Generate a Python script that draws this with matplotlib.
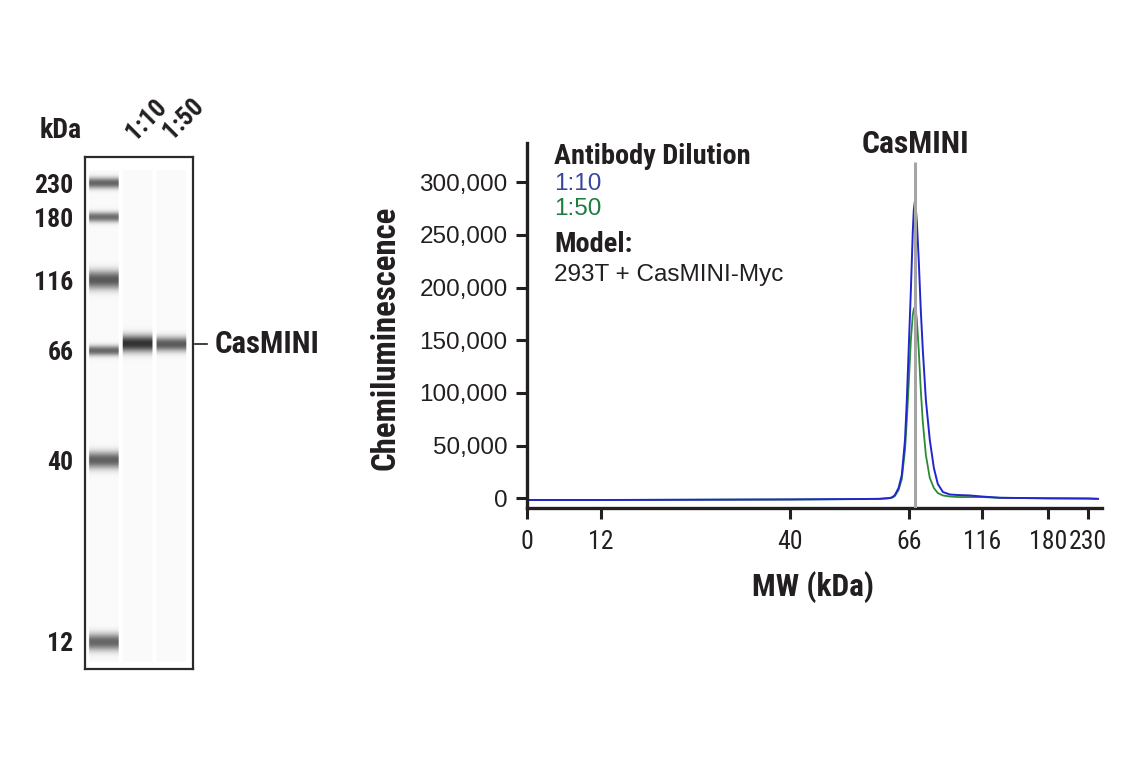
import numpy as np
import matplotlib
matplotlib.use("Agg")
import matplotlib.pyplot as plt
from matplotlib.ticker import NullLocator, FuncFormatter

# ---------------- data ----------------
# Blot (left panel)
ladder_mw = [230, 180, 116, 66, 40, 12]
ladder_intensity = [0.58, 0.55, 0.63, 0.57, 0.60, 0.58]
lane_labels = ["1:10", "1:50"]
sample_band_mw = [71.0, 70.6]
sample_band_intensity = [0.78, 0.62]

# Electropherogram (right panel)
mw_ticks = [0, 12, 40, 66, 116, 180, 230]
y_ticks = [0, 50000, 100000, 150000, 200000, 250000, 300000]
marker_mw = 70

mw_1to10 = [0, 12, 40, 55, 59.6, 61.8, 62.4, 62.9, 63.7, 64.4, 65.1, 65.5, 65.9, 67.2, 68.5,
            69.2, 69.9, 70.6, 71.3, 72.6, 74.0, 75.4, 77.5, 80.2, 83.0, 85.7, 89.2, 94, 100,
            107.7, 116, 133.5, 180, 230, 242.5]
signal_1to10 = [-1600, -1600, -1100, -700, -500, 300, 1200, 3100, 9800, 22000, 55300, 93300,
                140800, 197800, 252800, 273700, 281300, 274700, 262300, 226200, 178900, 141000,
                93400, 55400, 28800, 13600, 6000, 3600, 3100, 2700, 1700, 500, 0, -200, -500]

mw_1to50 = [0, 12, 40, 55, 59.6, 61.8, 62.4, 62.9, 63.7, 64.4, 65.1, 65.5, 65.9, 67.2, 68.5,
            69.2, 69.9, 70.6, 71.3, 72.6, 74.0, 75.4, 77.5, 80.2, 83.0, 85.7, 89.2, 94, 100,
            107.7, 116, 133.5, 180, 230, 242.5]
signal_1to50 = [-1600, -1600, -1100, -700, -500, 100, 800, 2200, 7900, 18300, 45900, 74300,
                107600, 150300, 174000, 179700, 181600, 177800, 169300, 140800, 102800, 72400,
                41100, 19300, 9800, 5000, 2700, 1700, 1200, 1200, 1200, 500, 0, -200, -500]

# ---------------- scales / styles ----------------
W, H = 1141, 768
# migration calibration of the blot (MW -> row, pixels from top)
blot_cal_mw = [3, 12, 40, 66, 116, 180, 230, 400]
blot_cal_row = [700.1, 641.7, 460, 350.7, 280, 217.3, 183.3, 67.7]
ladder_band_px = [13, 12, 22, 12, 20, 20]
sample_band_px = [20, 17]

# electropherogram MW axis calibration (MW -> column)
ep_cal_mw = [-20, 0, 12, 40, 66, 116, 180, 230, 400]
ep_cal_col = [405, 527.5, 601, 790, 909.3, 982, 1048, 1088, 1224]

TXT = "#231f20"
BLUE_LINE = "#2226cc"
GREEN_LINE = "#2a8c34"
BLUE_TXT = "#34479c"
GREEN_TXT = "#1d7d3e"

plt.rcParams["font.family"] = ["Liberation Sans", "DejaVu Sans"]
COND = ["Roboto Condensed", "Archivo Narrow", "Liberation Sans", "DejaVu Sans"]
BOLD = dict(family=COND, weight="bold")
CONDREG = dict(family=COND)
REG = dict(family=["Liberation Sans", "DejaVu Sans"])

fig = plt.figure(figsize=(W / 100, H / 100), dpi=100)
renderer = fig.canvas.get_renderer()


def size_for(text, target_px, props, ref=20.0):
    """font size giving the text a target width in pixels"""
    t = fig.text(0, 0, text, fontsize=ref, **props)
    w = t.get_window_extent(renderer).width
    t.remove()
    return ref * target_px / w


# ================= right panel =================
ax = fig.add_axes([527 / W, 1 - 508 / H, (1101.7 - 527) / W, (508 - 143) / H])


def ep_fwd(m):
    return np.interp(m, ep_cal_mw, ep_cal_col)


def ep_inv(p):
    return np.interp(p, ep_cal_col, ep_cal_mw)


ax.set_xscale("function", functions=(ep_fwd, ep_inv))
ax.plot(mw_1to50, signal_1to50, color=GREEN_LINE, lw=1.3, zorder=2)
ax.plot(mw_1to10, signal_1to10, color=BLUE_LINE, lw=1.4, zorder=2.5)
ylo, yhi = -9200, 337300
ax.vlines(marker_mw, ylo, 319000, color="#a5a5a5", lw=2.2, zorder=3)
ax.set_xlim(0, ep_inv(1101.7))
ax.set_ylim(ylo, yhi)

ax.set_xticks(mw_ticks)
ax.set_xticklabels([str(t) for t in mw_ticks])
ax.xaxis.set_minor_locator(NullLocator())
ax.set_yticks(y_ticks)
ax.yaxis.set_major_formatter(FuncFormatter(lambda v, p: f"{v:,.0f}"))
for s in ["top", "right"]:
    ax.spines[s].set_visible(False)
for s in ["left", "bottom"]:
    ax.spines[s].set_linewidth(2.4)
    ax.spines[s].set_color(TXT)
xtick_size = size_for("116", 38, CONDREG)
ax.tick_params(axis="both", direction="out", length=8, width=2.2, color=TXT,
               labelcolor=TXT)
ax.tick_params(axis="x", pad=8.0, labelsize=xtick_size)
ax.tick_params(axis="y", pad=6, labelsize=17.5)
for lab in ax.get_xticklabels():
    lab.set_family(COND)
for lab in ax.get_yticklabels():
    lab.set_family(REG["family"])

ax.set_ylabel("Chemiluminescence", fontsize=size_for("Chemiluminescence", 263, BOLD),
              color=TXT, ha="center", va="center", **BOLD)
ax.yaxis.set_label_coords((385 - 527) / (1101.7 - 527), (508 - 337.5) / 365)
ax.set_xlabel("MW (kDa)", fontsize=size_for("MW (kDa)", 122, BOLD), color=TXT,
              ha="center", va="center", **BOLD)
ax.xaxis.set_label_coords((813 - 527) / (1101.7 - 527), (508 - 587) / 365)

ax.text(marker_mw, 336000, "CasMINI", ha="center", va="center",
        fontsize=size_for("CasMINI", 108, BOLD), color=TXT, clip_on=False, **BOLD)

fx = (554 - 527) / (1101.7 - 527)


def fy(py):
    return (508 - py) / 365


head_size = size_for("Antibody Dilution", 197, BOLD)
ax.text(fx, fy(156), "Antibody Dilution", transform=ax.transAxes, ha="left", va="center",
        fontsize=head_size, color=TXT, **BOLD)
ax.text(fx, fy(183.5), lane_labels[0], transform=ax.transAxes, ha="left", va="center",
        fontsize=17.5, color=BLUE_TXT, **REG)
ax.text(fx, fy(209), lane_labels[1], transform=ax.transAxes, ha="left", va="center",
        fontsize=17.5, color=GREEN_TXT, **REG)
ax.text(fx, fy(245), "Model:", transform=ax.transAxes, ha="left", va="center",
        fontsize=head_size, color=TXT, **BOLD)
ax.text(fx, fy(275), "293T + CasMINI-Myc", transform=ax.transAxes, ha="left", va="center",
        fontsize=17.5, color=TXT, **REG)

# ================= left panel (blot) =================
axb = fig.add_axes([85 / W, 1 - 668.7 / H, 107.7 / W, 511.4 / H])


def b_fwd(m):
    return -np.interp(m, blot_cal_mw, blot_cal_row)


def b_inv(t):
    return np.interp(t, -np.array(blot_cal_row), blot_cal_mw)


axb.set_yscale("function", functions=(b_fwd, b_inv))
x_lo, x_hi = -0.553, 2.633
axb.set_xlim(x_lo, x_hi)
axb.set_ylim(b_inv(-668.7), b_inv(-157.3))

lane_centers = [0, 1, 2]
half_w = 0.46
t_edges = np.linspace(-668.7, -157.3, 513)
t_cent = 0.5 * (t_edges[1:] + t_edges[:-1])
x_edges = np.linspace(x_lo, x_hi, 216)
x_cent = 0.5 * (x_edges[1:] + x_edges[:-1])

band_sets = [
    list(zip(ladder_mw, ladder_intensity, ladder_band_px)),
    [(sample_band_mw[0], sample_band_intensity[0], sample_band_px[0])],
    [(sample_band_mw[1], sample_band_intensity[1], sample_band_px[1])],
]

C = np.zeros((len(t_cent), len(x_cent)))
bg_rows = ((-t_cent) > 170) & ((-t_cent) < 662)
for c, bands in zip(lane_centers, band_sets):
    col = np.clip((half_w - np.abs(x_cent - c)) / 0.04, 0, 1)
    prof = np.where(bg_rows, 0.022, 0.0)
    for mw, amp, thick in bands:
        tb = b_fwd(mw)
        hw = (thick / 2) / 1.2
        prof = prof + amp * np.exp(-(np.abs(t_cent - tb) / hw) ** 2.2)
    C += np.outer(np.clip(prof, 0, 1), col)

axb.pcolormesh(x_edges, b_inv(t_edges), np.clip(C, 0, 1), cmap="gray_r", vmin=0, vmax=1,
               shading="flat", antialiased=False, edgecolors="none", linewidth=0,
               rasterized=True)

axb.set_xticks([])
axb.set_yticks(ladder_mw)
axb.set_yticklabels([str(m) for m in ladder_mw])
axb.yaxis.set_minor_locator(NullLocator())
ladder_size = size_for("230", 39, BOLD)
axb.tick_params(axis="y", length=0, pad=8.4, labelsize=ladder_size, labelcolor=TXT)
for lab in axb.get_yticklabels():
    lab.set_family(COND)
    lab.set_weight("bold")
for s in axb.spines.values():
    s.set_linewidth(1.6)
    s.set_color("#2a2a2a")

# lane labels and kDa
lane_size = size_for("1:10", 46, BOLD)
for lab, cx, cy in zip(lane_labels, [146.7, 183.3], [119.3, 118.3]):
    fig.text(cx / W, 1 - cy / H, lab, rotation=45, rotation_mode="anchor", ha="center",
             va="center", fontsize=lane_size, color=TXT, **BOLD)
fig.text(61 / W, 1 - 131 / H, "kDa", ha="center", va="center",
         fontsize=size_for("kDa", 42, BOLD), color=TXT, **BOLD)

# CasMINI band marker
band_mw = sample_band_mw[0]
axb.plot([(195 - 103.7) / 33.8, (206.7 - 103.7) / 33.8], [band_mw, band_mw], color=TXT,
         lw=1.2, clip_on=False)
axb.text((215 - 103.7) / 33.8, band_mw, "CasMINI", ha="left", va="center",
         fontsize=size_for("CasMINI", 105, BOLD), color=TXT, clip_on=False, **BOLD)

fig.savefig("out.png", dpi=100)
